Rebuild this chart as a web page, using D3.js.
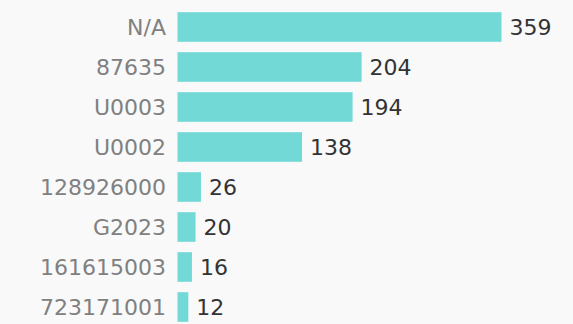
<!DOCTYPE html>
<html>
<head>
<meta charset="utf-8">
<script src="https://cdn.jsdelivr.net/npm/d3@7"></script>
<style>
  html, body { margin: 0; padding: 0; background: #f9f9f9; }
  svg { display: block; }
</style>
</head>
<body>
<svg id="chart" width="573" height="324"></svg>
<script>
// Record counts per code
const codes = ["N/A", "87635", "U0003", "U0002", "128926000", "G2023", "161615003", "723171001"];
const counts = [359, 204, 194, 138, 26, 20, 16, 12];

const width = 573, height = 324;
const margin = { top: 7, left: 177.5 };

const svg = d3.select("#chart");
svg.append("rect").attr("width", width).attr("height", height).attr("fill", "#f9f9f9");

const x = d3.scaleLinear()
  .domain([0, 359])
  .range([margin.left, 501.5]);

const y = d3.scaleBand()
  .domain(codes)
  .range([margin.top, margin.top + 40 * codes.length])
  .paddingInner(0.26)
  .paddingOuter(0.13);

const data = codes.map((c, i) => ({ code: c, count: counts[i] }));

const font = "'DejaVu Sans', Verdana, sans-serif";

svg.append("g").selectAll("rect")
  .data(data)
  .join("rect")
  .attr("x", x(0))
  .attr("y", d => y(d.code))
  .attr("width", d => x(d.count) - x(0))
  .attr("height", y.bandwidth())
  .attr("fill", "#72d9d6");

// Category labels
svg.append("g").selectAll("text")
  .data(data)
  .join("text")
  .attr("x", 166)
  .attr("y", d => y(d.code) + y.bandwidth() / 2)
  .attr("dy", "0.36em")
  .attr("text-anchor", "end")
  .attr("fill", "#808080")
  .style("font-family", font)
  .style("font-size", "22px")
  .text(d => d.code);

// Value labels
svg.append("g").selectAll("text")
  .data(data)
  .join("text")
  .attr("x", d => x(d.count) + 8)
  .attr("y", d => y(d.code) + y.bandwidth() / 2)
  .attr("dy", "0.36em")
  .attr("fill", "#333")
  .style("font-family", font)
  .style("font-size", "22px")
  .text(d => d.count);
</script>
</body>
</html>
